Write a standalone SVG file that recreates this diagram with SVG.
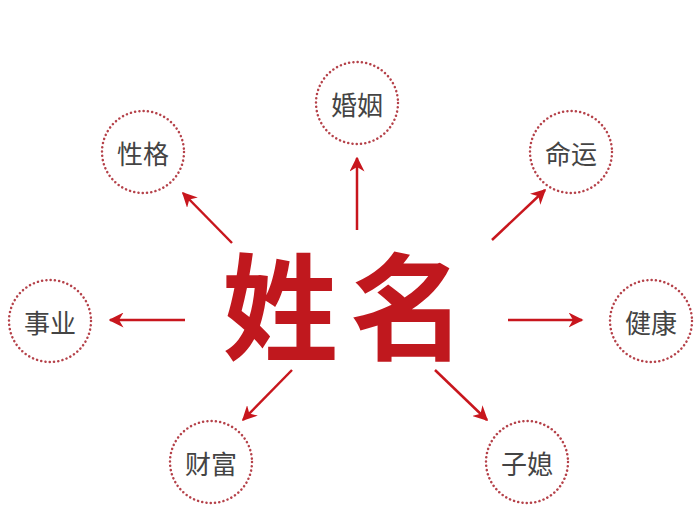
<svg xmlns="http://www.w3.org/2000/svg" width="700" height="523" viewBox="0 0 700 523">
<style>
.c{fill:#fff;stroke:#b5424a;stroke-width:2.5;stroke-dasharray:0.1 4.2;stroke-linecap:round}
.t{font-family:"Noto Sans CJK SC","Noto Sans CJK JP",sans-serif;font-size:26px;fill:#444;text-anchor:middle;dominant-baseline:central}
.a{stroke:#c8161d;stroke-width:2.5;fill:none;marker-end:url(#m)}
</style>
<defs><marker id="m" viewBox="0 0 10 10" refX="9" refY="5" markerWidth="6" markerHeight="6" orient="auto" markerUnits="strokeWidth"><path d="M0,0L10,5L0,10L3,5z" fill="#c8161d"/></marker></defs>
<rect width="700" height="523" fill="#fff"/>
<g id="connectors">
<path class="a" d="M357,230L357,158"/>
<path class="a" d="M232,243L183,193"/>
<path class="a" d="M492,240L545,190"/>
<path class="a" d="M185,320L110,320"/>
<path class="a" d="M508,320L582,320"/>
<path class="a" d="M292,370L243,420"/>
<path class="a" d="M435,370L487,420"/>
</g>
<g id="center"><text x="350" y="300" font-family="Noto Sans CJK SC,sans-serif" font-weight="700" font-size="116" fill="#c0181e" text-anchor="middle" dominant-baseline="central" letter-spacing="12">姓名</text></g>
<g id="n1"><circle class="c" cx="357" cy="103" r="41"/><text class="t" x="357" y="103">婚姻</text></g>
<g id="n2"><circle class="c" cx="143" cy="152" r="41"/><text class="t" x="143" y="152">性格</text></g>
<g id="n3"><circle class="c" cx="571" cy="152" r="41"/><text class="t" x="571" y="152">命运</text></g>
<g id="n4"><circle class="c" cx="50" cy="321" r="41"/><text class="t" x="50" y="321">事业</text></g>
<g id="n5"><circle class="c" cx="651" cy="321" r="41"/><text class="t" x="651" y="321">健康</text></g>
<g id="n6"><circle class="c" cx="211" cy="462" r="41"/><text class="t" x="211" y="462">财富</text></g>
<g id="n7"><circle class="c" cx="527" cy="462" r="41"/><text class="t" x="527" y="462">子媳</text></g>
</svg>
